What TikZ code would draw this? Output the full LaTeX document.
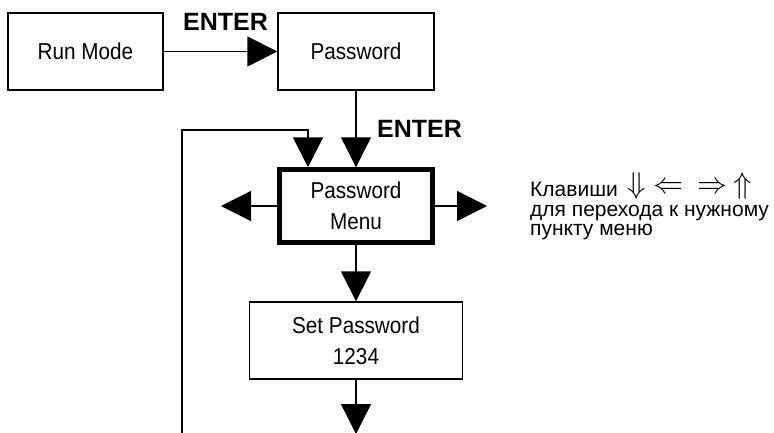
\documentclass[tikz,border=0pt]{standalone}
\usepackage{graphicx}
\usepackage{fontspec}
\setmainfont{Liberation Sans}
\newfontfamily\narrowsans[FakeStretch=0.9]{Liberation Sans}
\usetikzlibrary{arrows.meta}
\newcommand{\keyarrow}[1]{\raisebox{3pt}{\scalebox{3}{\fontsize{10}{10}\selectfont$#1$}}}

\begin{document}
\begin{tikzpicture}[x=1pt, y=-1pt,
    block/.style={rectangle, draw=black, line width=1.3pt, inner sep=0pt,
      minimum height=77pt, align=center,
      font=\narrowsans\fontsize{23}{31}\selectfont},
    arrow/.style={-{Triangle[length=30pt, width=30pt]}, line width=1.3pt},
    enterlabel/.style={font=\bfseries\fontsize{25}{25}\selectfont},
  ]
    \useasboundingbox (0,0) rectangle (774,432);

    \node[block, minimum width=155pt] (run) at (85.5,51.5) {Run Mode};
    \node[block, minimum width=156pt] (pass) at (356,51.5) {Password};
    \node[block, line width=4.5pt, minimum width=153pt, minimum height=73pt]
      (menu) at (356,206) {Password\\Menu};
    \node[block, minimum width=213pt] (setpw) at (356,340.5)
      {Set Password\\1234};

    \node[enterlabel] (enter1) at (225.5,21.5) {ENTER};
    \node[enterlabel] (enter2) at (419.5,128.5) {ENTER};

    % last line sits on the base anchor
    \node[anchor=base west, inner sep=0pt, align=left,
      font=\fontsize{21}{19.5}\selectfont] (keys) at (530,235.5)
      {Клавиши\hspace{10pt}\keyarrow{\Downarrow}\hspace{7pt}%
       \keyarrow{\Leftarrow}\hspace{14pt}\keyarrow{\Rightarrow}%
       \hspace{6pt}\keyarrow{\Uparrow}\\
       для перехода к нужному\\
       пункту меню};

    \coordinate (loopstart) at (182,434);
    \coordinate (loopcorner) at (308,130);
    \coordinate (leftend) at (221,206);
    \coordinate (rightend) at (487,206);
    \coordinate (downend) at (356,434);

    \draw[arrow] (run) -- (pass);
    \draw[arrow] (pass) -- (menu);
    \draw[arrow, line width=2pt] (loopstart) |- (loopcorner)
      -- (loopcorner |- menu.north);
    \draw[arrow] (menu) -- (leftend);
    \draw[arrow] (menu) -- (rightend);
    \draw[arrow] (menu) -- (setpw);
    \draw[arrow] (setpw) -- (downend);
  \end{tikzpicture}
\end{document}
